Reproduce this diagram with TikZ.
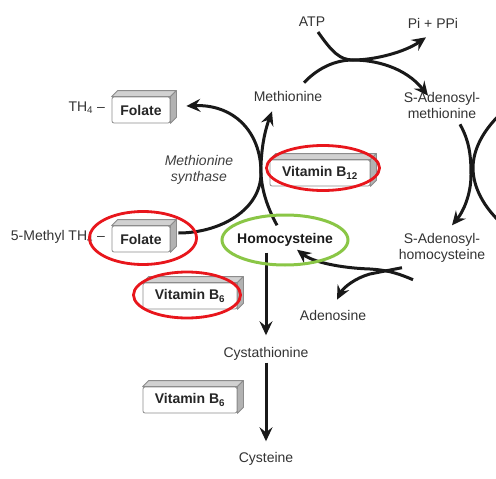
\documentclass[tikz,border=0pt]{standalone}
\usepackage{fontspec}
\setmainfont{Liberation Sans}
\usetikzlibrary{arrows.meta,shapes.geometric}
\tikzset{>=Stealth}
\definecolor{ringred}{RGB}{232,22,28}
\definecolor{ringgreen}{RGB}{138,198,70}

\begin{document}
\begin{tikzpicture}[
  x=1pt, y=-1pt,
  chem/.style={font=\fontsize{14}{16}\selectfont, text=black!80, align=center, inner sep=2pt},
  enzyme/.style={font=\fontsize{14}{16}\selectfont\itshape, text=black!75, align=center},
  vitbox/.style={rectangle, rounded corners=2pt, draw=black!45, fill=white, line width=0.8pt,
    minimum height=26pt, inner sep=3pt, font=\fontsize{14}{16}\selectfont\bfseries, text=black!85,
    append after command={\pgfextra{
      \draw[draw=black!45, fill=black!18, line width=0.8pt, line join=round]
        (\tikzlastnode.north west) -- ++(6pt,6pt) -- ([shift={(6pt,6pt)}]\tikzlastnode.north east)
        -- (\tikzlastnode.north east) -- cycle;
      \draw[draw=black!45, fill=black!30, line width=0.8pt, line join=round]
        (\tikzlastnode.north east) -- ++(6pt,6pt) -- ([shift={(6pt,6pt)}]\tikzlastnode.south east)
        -- (\tikzlastnode.south east) -- cycle;}}},
  redring/.style={ellipse, draw=ringred, line width=2.8pt, inner sep=0pt},
  greenring/.style={ellipse, draw=ringgreen, line width=3pt, inner sep=0pt},
  flow/.style={-{Stealth[length=14pt, width=13pt, inset=5pt]}, line width=3pt, color=black!90},
  bigarc/.style={line width=3pt, color=black!90}
]
\useasboundingbox (0,0) rectangle (496,479);

% ---------- Metabolites ----------
\node[chem] (atp) at (312,22) {ATP};
\node[chem] (pi) at (433,23) {Pi + PPi};
\node[chem] (met) at (288,96) {Methionine};
\node[chem] (sam) at (442,105) {S-Adenosyl-\\methionine};
\node[chem] (sah) at (442,248) {S-Adenosyl-\\homocysteine};
\node[chem, font=\fontsize{14}{16}\selectfont\bfseries, text=black!90] (hcy) at (285,240) {Homocysteine};
\node[chem] (ado) at (333,315) {Adenosine};
\node[chem] (cysta) at (266,354) {Cystathionine};
\node[chem] (cyst) at (266,459) {Cysteine};
\node[enzyme] (synth) at (199,170) {Methionine\\synthase};

% ---------- Folate and vitamins ----------
\node[vitbox, minimum width=58pt] (fol1) at (141,110) {Folate};
\node[vitbox, minimum width=58pt] (fol2) at (141,239) {Folate};
\node[chem, anchor=east] (th4) at (107,108) {TH\textsubscript{4} --};
\node[chem, anchor=east] (mth4) at (107,237) {5-Methyl TH\textsubscript{4} --};
\node[vitbox, minimum width=100pt] (btwelve) at (320,173) {Vitamin B\textsubscript{12}};
\node[vitbox, minimum width=94pt] (bsix1) at (190,296) {Vitamin B\textsubscript{6}};
\node[vitbox, minimum width=94pt] (bsix2) at (190,400) {Vitamin B\textsubscript{6}};

% ---------- Upper crossing ----------
\draw[flow] ([xshift=6pt,yshift=-3pt]atp.south) .. controls (332,52) and (340,60) .. (353,60)
  .. controls (375,60) and (405,52) .. ([xshift=-7pt,yshift=-7pt]pi.south);
\draw[flow] ([xshift=16pt,yshift=6pt]met.north) .. controls (318,68) and (335,60) .. (353,60)
  .. controls (375,60) and (405,67) .. ([xshift=-14pt,yshift=-6pt]sam.north);

% ---------- Right side ----------
\draw[flow] ([xshift=18pt,yshift=-4pt]sam.south) .. controls (470,142) and (471,158) .. (471,175)
  .. controls (471,195) and (463,212) .. ([xshift=10pt,yshift=6pt]sah.north);
\begin{scope}
  \clip (0,0) rectangle (496,479);
  \draw[bigarc] (512,104) .. controls (485,125) and (473,148) .. (473,168)
    .. controls (473,188) and (485,212) .. (512,232);
\end{scope}

% ---------- Lower crossing ----------
\draw[flow] ([xshift=-29pt,yshift=-15pt]sah.south) .. controls (395,272) and (385,270) .. (370,269)
  .. controls (340,268) and (313,262) .. ([xshift=12pt,yshift=-1pt]hcy.south);
\draw[flow] ([xshift=-40pt,yshift=-3pt]sah.south) .. controls (390,270) and (380,272) .. (370,274)
  .. controls (355,278) and (343,288) .. ([xshift=4pt,yshift=8pt]ado.north);

% ---------- Methionine synthase ----------
\draw[flow] ([xshift=-8pt,yshift=6pt]hcy.north) .. controls (266,205) and (260,185) .. (261,165)
  .. controls (262,140) and (267,125) .. ([xshift=-16pt,yshift=-8pt]met.south);
\draw[flow] ([xshift=8pt,yshift=6pt]fol2.east) .. controls (220,233) and (261,210) .. (261,173)
  .. controls (261,130) and (232,104) .. ([xshift=16pt,yshift=4pt]fol1.east);

% ---------- Transsulfuration ----------
\draw[flow, shorten >=10pt] ([yshift=-4pt]hcy.south -| cysta.north) -- (cysta.north);
\draw[flow, shorten >=9pt] (cysta.south) -- (cyst.north);

% ---------- Highlight rings ----------
\node[redring, minimum width=107pt, minimum height=53pt] (ringfol) at (143,238) {};
\node[redring, minimum width=107pt, minimum height=46pt] (ringbsix) at (187,295) {};
\node[redring, minimum width=113pt, minimum height=45pt] (ringbtwelve) at (323,168) {};
\node[greenring, minimum width=126pt, minimum height=50pt] (ringhcy) at (285,240) {};

\end{tikzpicture}
\end{document}
